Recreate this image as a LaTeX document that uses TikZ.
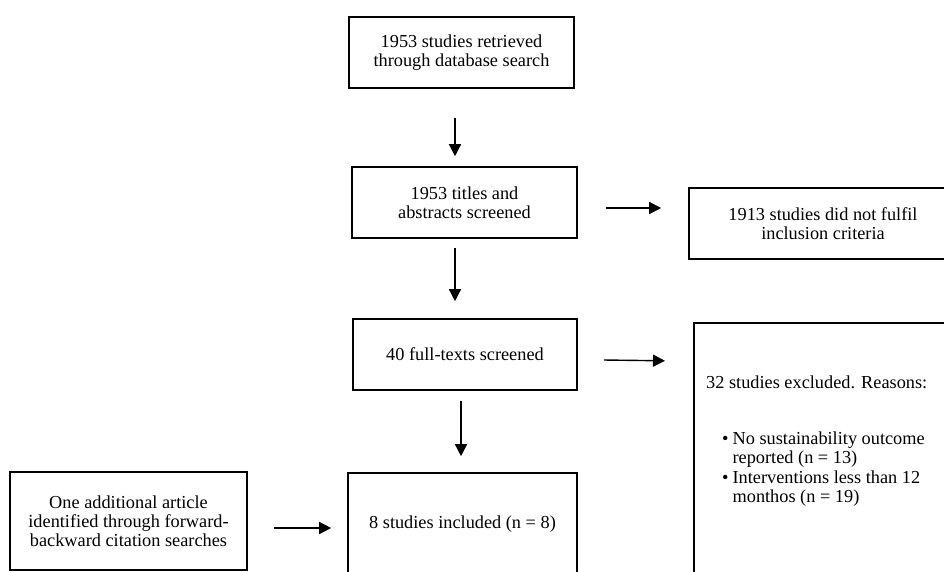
\documentclass[tikz,border=0pt]{standalone}
\usepackage{fontspec}
\setmainfont{Liberation Serif}
\usetikzlibrary{arrows.meta,positioning,calc}

\begin{document}
\begin{tikzpicture}
        [x=1pt,y=-1pt,>={Triangle[length=12pt,width=12pt]},
        stage/.style={draw,line width=1.6pt,align=center,inner sep=0pt,
            font=\fontsize{18.3}{19}\selectfont},
        note/.style={inner sep=0pt,align=left,font=\fontsize{18.3}{19.5}\selectfont},
        flow/.style={->,line width=1.4pt}]

        \clip (0,0) rectangle (944,571);

        % main column
        \node[stage,minimum width=225pt,minimum height=71pt] (retrieved) at (461.5,52.5) {1953 studies retrieved\\through database search};
        \node[stage,minimum width=225pt,minimum height=71pt] (titles) at (464.5,202.5) {1953 titles and\\abstracts screened};
        \node[stage,minimum width=224pt,minimum height=71pt] (fulltexts) at (465,354.5) {40 full-texts screened};
        \node[stage,minimum width=229pt,minimum height=102pt] (included) at (462.5,524) {8 studies included (n = 8)};

        % side boxes
        \node[stage,minimum width=268pt,minimum height=71pt] (notmet) at (823,223.5) {1913 studies did not fulfil\\inclusion criteria};
        \node[stage,minimum width=268pt,minimum height=280pt,anchor=north west] (excluded) at (693,322) {};
        \node[stage,minimum width=237pt,minimum height=98pt] (additional) at (128.5,521) {One additional article\\identified through forward-\\backward citation searches};

        \node[note,anchor=base west] (reasons) at ($(excluded.north west)+(13,66)$) {32 studies excluded. Reasons:};
        \node[note,anchor=base west] (reasonlist) at ($(excluded.north west)+(29,122)$)
            {\begin{tabular}[t]{@{}l@{\hspace{4pt}}l@{}}
                \textbullet & No sustainability outcome\\
                            & reported (n = 13)\\
                \textbullet & Interventions less than 12\\
                            & monthos (n = 19)
            \end{tabular}};

        % connectors
        \draw[flow] ($(retrieved.south)+(-6.5,29)$) -- ($(titles.north)+(-9.5,-10)$);
        \draw[flow] ($(titles.south)+(-9.5,9)$) -- ($(fulltexts.north)+(-10,-17)$);
        \draw[flow] ($(fulltexts.south)+(-4,10)$) -- ($(included.north)+(-1.5,-16)$);
        \draw[flow] ($(titles.east)+(28,5.5)$) -- ($(notmet.west)+(-27,-15.5)$);
        \draw[flow] ($(fulltexts.east)+(26,5.5)$) -- ($(excluded.west)+(-28,-102)$);
        \draw[flow] ($(additional.east)+(26,7)$) -- ($(included.west)+(-16,4)$);

    \end{tikzpicture}
\end{document}
